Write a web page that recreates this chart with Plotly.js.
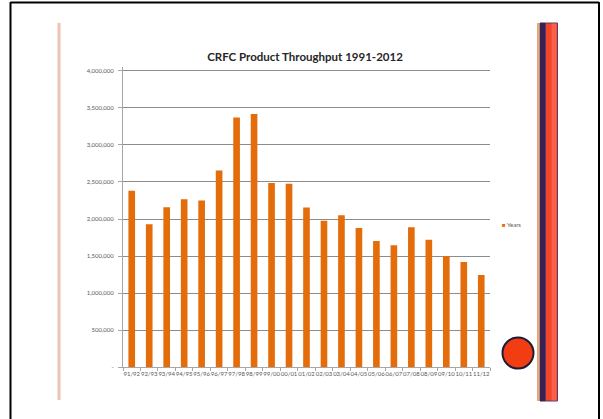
<!DOCTYPE html>
<html>
<head>
<meta charset="utf-8">
<script src="https://cdn.plot.ly/plotly-3.0.1.min.js"></script>
<style>
  html, body { margin: 0; padding: 0; background: #ffffff; }
  #chart { width: 603px; height: 419px; }
</style>
</head>
<body>
<div id="chart"></div>
<script>
// Fiscal years (July–June) of CRFC product throughput
const seasons = ["91/92", "92/93", "93/94", "94/95", "95/96", "96/97", "97/98",
                 "98/99", "99/00", "00/01", "01/02", "02/03", "03/04", "04/05",
                 "05/06", "06/07", "07/08", "08/09", "09/10", "10/11", "11/12"];

const throughput = [2380000, 1930000, 2160000, 2265000, 2250000, 2655000, 3370000,
                    3415000, 2485000, 2475000, 2155000, 1975000, 2050000, 1880000,
                    1705000, 1645000, 1890000, 1720000, 1500000, 1420000, 1245000];

const seriesName = "Years";
const chartTitle = "CRFC Product Throughput 1991-2012";

const yTickVals = [0, 500000, 1000000, 1500000, 2000000, 2500000, 3000000, 3500000, 4000000];
const yTickText = ["-", "500,000", "1,000,000", "1,500,000", "2,000,000",
                   "2,500,000", "3,000,000", "3,500,000", "4,000,000"];

const W = 603, H = 419;
const px = x => x / W;
const py = y => 1 - y / H;

const barColor = "#e46c0a";
const axisFont = { family: "Lato, 'Liberation Sans', sans-serif", size: 6, color: "#595959" };

const trace = {
  type: "bar",
  x: seasons,
  y: throughput,
  name: seriesName,
  marker: { color: barColor },
  showlegend: false,
  hoverinfo: "x+y"
};

const layout = {
  width: W,
  height: H,
  margin: { l: 0, r: 0, t: 0, b: 0 },
  paper_bgcolor: "#ffffff",
  plot_bgcolor: "#ffffff",
  bargap: 0.62,
  title: {
    text: "<b>" + chartTitle + "</b>",
    font: { family: "Lato, 'Liberation Sans', sans-serif", size: 11.5, color: "#262626" },
    x: px(305), xanchor: "center", xref: "paper",
    y: py(57), yanchor: "middle", yref: "paper"
  },
  xaxis: {
    type: "category",
    domain: [px(123), px(490)],
    tickangle: 0,
    tickfont: axisFont,
    ticks: "outside",
    tickson: "boundaries",
    ticklen: 3,
    tickcolor: "#a6a6a6",
    showline: true,
    linecolor: "#a6a6a6",
    linewidth: 1,
    showgrid: false,
    zeroline: false,
    fixedrange: true
  },
  yaxis: {
    domain: [1 - 367.3 / H, 1 - 67.0 / H],
    range: [0, 4050000],
    tickvals: yTickVals,
    ticktext: yTickText,
    tickfont: axisFont,
    ticks: "outside",
    ticklen: 4,
    ticklabelstandoff: 3,
    tickcolor: "#a6a6a6",
    showline: true,
    linecolor: "#a6a6a6",
    linewidth: 1,
    showgrid: true,
    gridcolor: "#8c8c8c",
    gridwidth: 1,
    zeroline: false,
    fixedrange: true
  },
  annotations: [
    {
      xref: "paper", yref: "paper",
      x: px(500), y: py(224),
      xanchor: "left", yanchor: "middle",
      text: "<span style='color:" + barColor + "'>■</span> " + seriesName,
      showarrow: false,
      font: { family: "Lato, 'Liberation Sans', sans-serif", size: 6, color: "#595959" }
    }
  ],
  shapes: [
    // slide frame
    { type: "line", xref: "paper", yref: "paper", x0: px(10.5), x1: px(10.5), y0: 0, y1: py(2),
      line: { color: "#000000", width: 2 } },
    { type: "line", xref: "paper", yref: "paper", x0: px(10.5), x1: px(599), y0: py(2.5), y1: py(2.5),
      line: { color: "#000000", width: 2 } },
    { type: "line", xref: "paper", yref: "paper", x0: px(599), x1: px(599), y0: 0, y1: py(2),
      line: { color: "#000000", width: 2 } },
    // left accent rule
    { type: "line", xref: "paper", yref: "paper", x0: px(59), x1: px(59), y0: py(400), y1: py(23),
      line: { color: "#ecc4b6", width: 3 } },
    // right accent bars
    { type: "line", xref: "paper", yref: "paper", x0: px(538), x1: px(538), y0: py(401), y1: py(23),
      line: { color: "#e8893a", width: 1.5 } },
    { type: "rect", xref: "paper", yref: "paper", x0: px(540), x1: px(545.5), y0: py(401), y1: py(23),
      fillcolor: "#3b2150", line: { color: "#3b2150", width: 1 } },
    { type: "rect", xref: "paper", yref: "paper", x0: px(545.5), x1: px(557.5), y0: py(401), y1: py(23),
      fillcolor: "#f2452a", line: { color: "#5a3a6a", width: 1 } },
    { type: "rect", xref: "paper", yref: "paper", x0: px(551.5), x1: px(556.5), y0: py(400.5), y1: py(23.5),
      fillcolor: "#ff7a68", opacity: 0.5, line: { width: 0 } },
    // round accent
    { type: "circle", xref: "paper", yref: "paper",
      x0: px(502.5), x1: px(533.5), y0: py(368.5), y1: py(337.5),
      fillcolor: "#f23c12", line: { color: "#1c1c3a", width: 2 } }
  ]
};

Plotly.newPlot("chart", [trace], layout, { displayModeBar: false, staticPlot: true });
</script>
</body>
</html>
